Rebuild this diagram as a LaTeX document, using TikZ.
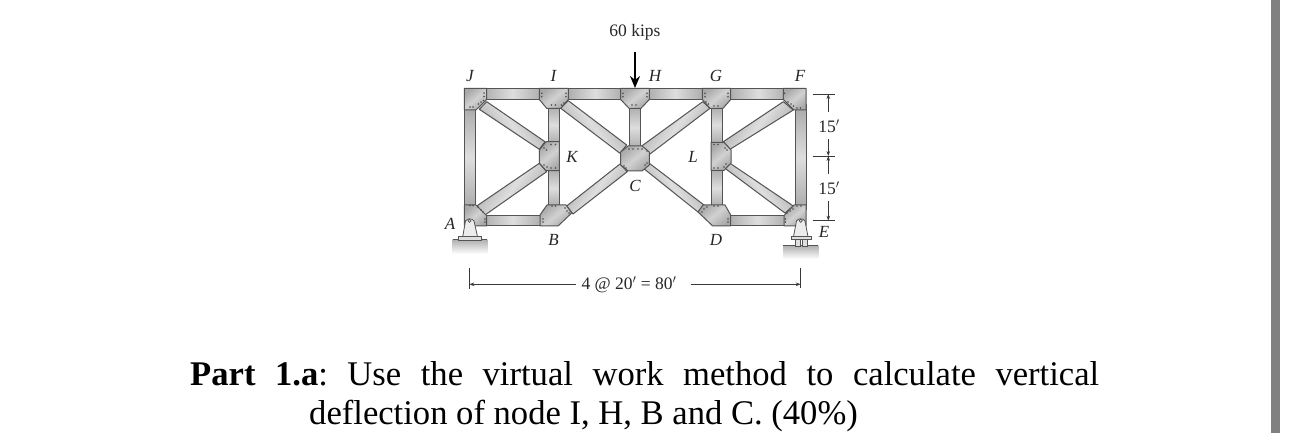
\documentclass[tikz,border=0pt]{standalone}
\usepackage{fontspec}
\setmainfont{Liberation Serif}
\usetikzlibrary{arrows.meta}
\definecolor{edge}{gray}{0.33}
\definecolor{dk}{gray}{0.66}
\definecolor{lt}{gray}{0.87}
\definecolor{inkc}{gray}{0.15}
\definecolor{gdk}{gray}{0.66}
\definecolor{glt}{gray}{0.82}
\tikzset{
  x=1pt,y=-1pt,
  member/.style={draw=edge,line width=1pt,line join=round},
  memberH/.style={member,left color=dk,right color=dk,middle color=lt},
  memberV/.style={member,top color=dk,bottom color=dk,middle color=lt},
  memberU/.style={member,top color=dk,bottom color=dk,middle color=lt,shading angle=55},
  memberW/.style={member,top color=dk,bottom color=dk,middle color=lt,shading angle=-55},
  gusset/.style={member,left color=gdk,right color=gdk,middle color=glt,shading angle=40},
  lab/.style={font=\fontsize{17}{19}\selectfont\itshape,text=inkc,inner sep=0pt},
  dimtxt/.style={font=\fontsize{17.5}{19}\selectfont,text=inkc,inner sep=0pt},
  dimline/.style={draw=gray!45!black,line width=0.8pt},
  dimarrow/.style={dimline,-{Stealth[length=5pt,width=3.6pt]}},
  body/.style={font=\fontsize{34.6}{40}\selectfont\frenchspacing,text=black,inner sep=0pt,anchor=base west},
  plate/.style={draw=edge,line width=0.8pt,fill=gray!25},
}
\newcommand{\rv}[2]{\fill[black!70] (#1,#2) circle (0.85);}
\begin{document}
\begin{tikzpicture}
\useasboundingbox (0,0) rectangle (1289,435);
\fill[white] (0,0) rectangle (1289,435);
% page edge bar
\fill[gray] (1271,0) rectangle (1280,433);

% grounds
\shade[top color=gray!60,bottom color=white] (452.7,240) rectangle (487.3,254);
\shade[top color=gray!60,bottom color=white] (783.3,246) rectangle (818.3,259);
\draw[edge,line width=1pt] (452.7,240) -- (487.3,240);
\draw[edge,line width=1pt] (783.3,246) -- (818.3,246);

% chords and columns
\path[memberH] (480,88.3) rectangle (545,99.5);
\path[memberH] (565,88.3) rectangle (625,99.5);
\path[memberH] (645,88.3) rectangle (705,99.5);
\path[memberH] (727,88.3) rectangle (790,99.5);
\path[memberH] (480,215.7) rectangle (545,226);
\path[memberH] (725,215.7) rectangle (790,226);
\path[memberV] (464.3,105) rectangle (475,210);
\path[memberV] (795,105) rectangle (806,210);
% verticals
\path[memberV] (548,105) rectangle (559.3,145);
\path[memberV] (548,168) rectangle (559.3,208);
\path[memberV] (629.3,105) rectangle (640,150);
\path[memberV] (711.7,105) rectangle (722.3,145);
\path[memberV] (711.7,168) rectangle (722.3,208);
% diagonals
\path[memberW] (486.7,101.7) -- (545,141.7) -- (539.3,149.3) -- (479.3,109.3) -- cycle;
\path[memberU] (539.3,163.3) -- (476.7,206) -- (485,215) -- (546.7,171.7) -- cycle;
\path[memberW] (568.3,100.7) -- (626.7,145) -- (620,153.3) -- (560.7,108.3) -- cycle;
\path[memberU] (620,164) -- (566.7,206) -- (573,214) -- (627.3,171.7) -- cycle;
\path[memberU] (702.7,101.7) -- (641.7,146) -- (650,154) -- (710,108.3) -- cycle;
\path[memberW] (649.3,163.3) -- (704,205) -- (698,212) -- (643.3,168.3) -- cycle;
\path[memberU] (783.3,101.7) -- (723.3,141.7) -- (730,149.3) -- (793.3,110) -- cycle;
\path[memberW] (730,163.3) -- (793.3,206) -- (785,213) -- (725,168.3) -- cycle;

% gussets: top
\path[gusset] (464.3,88.3) -- (486.7,88.3) -- (486.7,99.5) -- (476,110) -- (464.3,110) -- cycle;
\path[gusset] (539.3,88.3) -- (568.3,88.3) -- (568.3,99.5) -- (560.7,108.3) -- (546.7,108.3) -- (539.3,99.5) -- cycle;
\path[gusset] (620.7,88.3) -- (649.3,88.3) -- (649.3,99.5) -- (641,108.3) -- (629,108.3) -- (620.7,99.5) -- cycle;
\path[gusset] (702.3,88.3) -- (730.7,88.3) -- (730.7,99.5) -- (723,108.3) -- (710,108.3) -- (702.3,99.5) -- cycle;
\path[gusset] (783.3,88.3) -- (806,88.3) -- (806,110) -- (794,110) -- (783.3,99.5) -- cycle;
% gussets: middle
\path[gusset] (546,141.7) -- (559.3,141.7) -- (559.3,170.7) -- (546,170.7) -- (539.3,163) -- (539.3,150) -- cycle;
\path[gusset] (628,146) -- (642,146) -- (649.3,152) -- (649.3,165) -- (642,171) -- (628,171) -- (620.7,165) -- (620.7,152) -- cycle;
\path[gusset] (711,142.3) -- (724,142.3) -- (731,150) -- (731,163) -- (724,170.3) -- (711,170.3) -- cycle;
% gussets: bottom
\path[gusset] (464.3,205) -- (476,205) -- (486.7,215.7) -- (486.7,226) -- (464.3,226) -- cycle;
\path[gusset] (547,205) -- (566,205) -- (571.7,213) -- (558,226) -- (540,226) -- (540,215) -- cycle;
\path[gusset] (703,205) -- (725,205) -- (730.7,215) -- (730.7,226) -- (712.7,226) -- (698,212) -- cycle;
\path[gusset] (794,205) -- (806,205) -- (806,226) -- (784,226) -- (784,215.5) -- cycle;

% rivets
\foreach \a/\b in {484/93,484/96.5,481/102,483.5/100.5,478.5/104,470/107,473/107,
  541.7/93.3,541.7/96.7,566/93.3,566/96.7,551.5/105,555.5/105,561.5/105,564/103,
  623/93.3,623/96.7,647/93.3,647/96.7,632/105,636/105,
  705/93.3,705/96.7,728/93.3,728/96.7,714/106,718/106,706/102,708.5/104,
  784.5/93.3,788/102,791/104,793.5/106,797/108,800.5/108,
  551/144.5,555.5/144.5,544/148,546.5/150,544/165,547/167,551/168,555.5/168,
  629/149,633/149,638/149,642/149,647/151,624/166,626/168,645/165,647/163,
  714/144.5,718/144.5,725/148,727/150,714/168,718/168,726/164,724/167,
  470/205.5,473/205.5,478/207,481/210,483/212,485/219,485/222,
  552/206,555.5/206,565/208,567/211,569/213,543/219,543/222,
  714/206,718/206,702/212,704/209,707/207,728/219,728/222,
  797/206,801/206,787/213,790/211,793/209,785.5/219,785.5/222}
{\rv{\a}{\b}}

% supports
\path[plate,fill=gray!15] (462.7,236.7) -- (465.5,221) to[bend left=60] (474,221) -- (477.5,236.7) -- cycle;
\draw[edge,line width=0.7pt] (469.4,220.8) circle (1.6);
\path[plate] (458.3,236.7) rectangle (481.7,240);
\path[plate,fill=gray!15] (793.5,236.7) -- (796.5,221) to[bend left=60] (805,221) -- (808,236.7) -- cycle;
\draw[edge,line width=0.7pt] (800.7,220.8) circle (1.6);
\path[plate] (791,236) rectangle (811,239.5);
\path[plate] (795,239.5) rectangle (800,246);
\path[plate] (802,239.5) rectangle (807,246);

% labels
\node[lab] (nJ) at (470,76) {J};
\node[lab] (nI) at (553.5,76) {I};
\node[lab] (nH) at (655,76) {H};
\node[lab] (nG) at (716,76) {G};
\node[lab] (nF) at (800,76) {F};
\node[lab] (nK) at (572,157) {K};
\node[lab] (nL) at (693,157) {L};
\node[lab] (nC) at (635,186) {C};
\node[lab] (nA) at (450,224) {A};
\node[lab] (nB) at (553.5,240) {B};
\node[lab] (nD) at (716,240) {D};
\node[lab] (nE) at (824,232) {E};

% load
\node[dimtxt] (kips) at (635,32) {60 kips};
\coordinate (loadtop) at (635,52);
\coordinate (loadtip) at (635,88);
\draw[line width=2pt,-{Stealth[length=12pt,width=10pt]}] (loadtop) -- (loadtip);

% vertical dimensions
\coordinate (t1a) at (812.7,94); \coordinate (t1b) at (835,94);
\coordinate (t2a) at (812.7,156); \coordinate (t2b) at (835,156);
\coordinate (t3a) at (812.7,220.7); \coordinate (t3b) at (835,220.7);
\draw[dimline] (t1a) -- (t1b);
\draw[dimline] (t2a) -- (t2b);
\draw[dimline] (t3a) -- (t3b);
\node[dimtxt] (d1) at (829,126) {15$'$};
\node[dimtxt] (d2) at (829,188.5) {15$'$};
\coordinate (a1) at (828.3,94); \coordinate (a1s) at (828.3,112);
\coordinate (a2) at (828.3,156); \coordinate (a2s) at (828.3,139); \coordinate (a2u) at (828.3,174);
\coordinate (a3) at (828.3,220.7); \coordinate (a3s) at (828.3,201);
\draw[dimarrow] (a1s) -- (a1);
\draw[dimarrow] (a2s) -- (a2);
\draw[dimarrow] (a2u) -- (a2);
\draw[dimarrow] (a3s) -- (a3);

% horizontal dimension
\coordinate (l1) at (469.3,267.7); \coordinate (l2) at (469.3,289.3);
\coordinate (r1) at (800.7,267.7); \coordinate (r2) at (800.7,288.5);
\draw[dimline] (l1) -- (l2);
\draw[dimline] (r1) -- (r2);
\node[dimtxt] (span) at (629,285) {4 @ 20$'$ = 80$'$};
\coordinate (ll) at (469.3,284.3); \coordinate (ls) at (575.7,284.3);
\coordinate (rr) at (800.7,284.3); \coordinate (rs) at (690.7,284.3);
\draw[dimarrow] (ls) -- (ll);
\draw[dimarrow] (rs) -- (rr);

% caption
\node[body] (cap1) at (190,385) {\makebox[909pt][s]{\textbf{Part 1.a}: Use the virtual work method to calculate vertical}};
\node[body] (cap2) at (309,424) {deflection of node I, H, B and C. (40\%)};
\end{tikzpicture}
\end{document}
